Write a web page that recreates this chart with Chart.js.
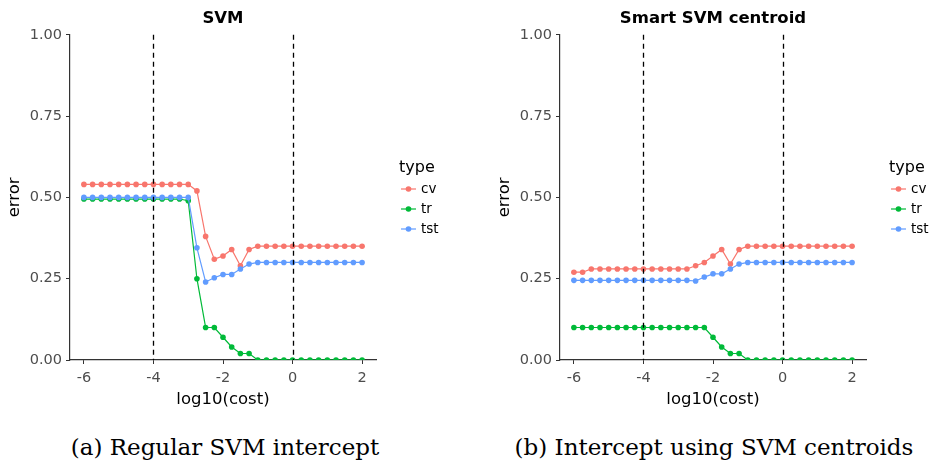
<!DOCTYPE html>
<html>
<head>
    <title>SVM error vs cost</title>
    <script src="https://cdn.jsdelivr.net/npm/chart.js"></script>
    <style>
        body { margin: 0; background: #fff; }
        #wrap { position: relative; width: 932px; height: 463px; }
        canvas { position: absolute; top: 0; }
        .cap { position: absolute; top: 434px; line-height: 27px; font-family: 'DejaVu Serif'; font-size: 23px;
               color: #000; text-align: center; white-space: nowrap; }
    </style>
</head>
<body>
<div id="wrap">
    <canvas id="svm-chart" width="466" height="420" style="left:0"></canvas>
    <canvas id="smart-chart" width="466" height="420" style="left:466px"></canvas>
    <div class="cap" style="left:25px;width:400px">(a) Regular SVM intercept</div>
    <div class="cap" style="left:514px;width:400px">(b) Intercept using SVM centroids</div>
</div>

<script>
// log10(cost) grid
const logCost = [-6, -5.75, -5.5, -5.25, -5, -4.75, -4.5, -4.25, -4, -3.75, -3.5, -3.25, -3,
    -2.75, -2.5, -2.25, -2, -1.75, -1.5, -1.25, -1, -0.75, -0.5, -0.25, 0,
    0.25, 0.5, 0.75, 1, 1.25, 1.5, 1.75, 2];
const xTicks = [-6, -4, -2, 0, 2];
const yTicks = [0, 0.25, 0.5, 0.75, 1];
const cutoffs = [-4, 0];

// panel (a) SVM
const svmCv = [0.54, 0.54, 0.54, 0.54, 0.54, 0.54, 0.54, 0.54, 0.54, 0.54, 0.54, 0.54, 0.54,
    0.52, 0.38, 0.31, 0.32, 0.34, 0.29, 0.34, 0.35,
    0.35, 0.35, 0.35, 0.35, 0.35, 0.35, 0.35, 0.35, 0.35, 0.35, 0.35, 0.35];
const svmTr = [0.495, 0.495, 0.495, 0.495, 0.495, 0.495, 0.495, 0.495, 0.495, 0.495, 0.495, 0.495, 0.49,
    0.25, 0.10, 0.10, 0.07, 0.04, 0.02, 0.02, 0,
    0, 0, 0, 0, 0, 0, 0, 0, 0, 0, 0, 0];
const svmTst = [0.50, 0.50, 0.50, 0.50, 0.50, 0.50, 0.50, 0.50, 0.50, 0.50, 0.50, 0.50, 0.50,
    0.345, 0.24, 0.253, 0.263, 0.263, 0.28, 0.295, 0.30,
    0.30, 0.30, 0.30, 0.30, 0.30, 0.30, 0.30, 0.30, 0.30, 0.30, 0.30, 0.30];

// panel (b) Smart SVM centroid
const smartCv = [0.27, 0.27, 0.28, 0.28, 0.28, 0.28, 0.28, 0.28, 0.28, 0.28, 0.28, 0.28, 0.28,
    0.28, 0.29, 0.30, 0.32, 0.34, 0.295, 0.34, 0.35,
    0.35, 0.35, 0.35, 0.35, 0.35, 0.35, 0.35, 0.35, 0.35, 0.35, 0.35, 0.35];
const smartTr = [0.10, 0.10, 0.10, 0.10, 0.10, 0.10, 0.10, 0.10, 0.10, 0.10, 0.10, 0.10, 0.10,
    0.10, 0.10, 0.10, 0.07, 0.04, 0.02, 0.02, 0,
    0, 0, 0, 0, 0, 0, 0, 0, 0, 0, 0, 0];
const smartTst = [0.245, 0.245, 0.245, 0.245, 0.245, 0.245, 0.245, 0.245, 0.245, 0.245, 0.245, 0.245, 0.245,
    0.245, 0.243, 0.255, 0.265, 0.265, 0.28, 0.295, 0.30,
    0.30, 0.30, 0.30, 0.30, 0.30, 0.30, 0.30, 0.30, 0.30, 0.30, 0.30, 0.30];

const typeNames = ['cv', 'tr', 'tst'];
const typeColors = ['#F8766D', '#00BA38', '#619CFF'];

Chart.defaults.font.family = '"DejaVu Sans"';

// dashed reference lines at the chosen cost values
const vlinePlugin = {
    id: 'vlines',
    afterDatasetsDraw(chart) {
        const ctx = chart.ctx, area = chart.chartArea, xs = chart.scales.x;
        ctx.save();
        ctx.strokeStyle = '#000';
        ctx.lineWidth = 1.3;
        ctx.setLineDash([5, 4]);
        cutoffs.forEach(v => {
            const px = Math.round(xs.getPixelForValue(v)) + 0.5;
            ctx.beginPath();
            ctx.moveTo(px, area.top);
            ctx.lineTo(px, area.bottom);
            ctx.stroke();
        });
        ctx.restore();
    }
};

// ggplot-like legend with a title, to the right of the panel
const typeLegend = {
    id: 'typeLegend',
    afterDraw(chart) {
        const ctx = chart.ctx, x0 = chart.chartArea.right;
        ctx.save();
        ctx.textBaseline = 'middle';
        ctx.fillStyle = '#000';
        ctx.font = '16px "DejaVu Sans"';
        ctx.fillText('type', x0 + 23, 168);
        ctx.font = '13.5px "DejaVu Sans"';
        chart.data.datasets.forEach((ds, i) => {
            const y = 189 + i * 20;
            ctx.strokeStyle = ds.borderColor;
            ctx.lineWidth = 1.2;
            ctx.beginPath();
            ctx.moveTo(x0 + 25, y);
            ctx.lineTo(x0 + 40, y);
            ctx.stroke();
            ctx.fillStyle = ds.borderColor;
            ctx.beginPath();
            ctx.arc(x0 + 32.5, y, 2.8, 0, Math.PI * 2);
            ctx.fill();
            ctx.fillStyle = '#000';
            ctx.fillText(ds.label, x0 + 45, y);
        });
        ctx.restore();
    }
};

function makeChart(id, title, series, padLeft, padRight) {
    const ctx = document.getElementById(id).getContext('2d');
    return new Chart(ctx, {
        type: 'line',
        data: {
            datasets: series.map((vals, i) => ({
                label: typeNames[i],
                data: logCost.map((x, j) => ({ x: x, y: vals[j] })),
                borderColor: typeColors[i],
                backgroundColor: typeColors[i],
                pointBackgroundColor: typeColors[i],
                pointBorderWidth: 0,
                pointRadius: 2.8,
                borderWidth: 1.2,
                tension: 0,
                order: 2 - i
            }))
        },
        options: {
            responsive: false,
            animation: false,
            layout: { padding: { left: padLeft, right: padRight, top: 0, bottom: 10.8 } },
            plugins: {
                legend: { display: false },
                tooltip: { enabled: false },
                title: {
                    display: true,
                    text: title,
                    fullSize: false,
                    color: '#000',
                    font: { size: 16.5, weight: 'bold' },
                    padding: { top: 9, bottom: 6 }
                }
            },
            scales: {
                x: {
                    type: 'linear',
                    min: -6.4,
                    max: 2.4,
                    afterBuildTicks: s => { s.ticks = xTicks.map(v => ({ value: v })); },
                    afterFit: s => { s.height = 49.2; },
                    ticks: { color: '#4d4d4d', font: { size: 14.5 }, padding: 6, maxRotation: 0 },
                    grid: { drawOnChartArea: false, tickLength: 4, color: '#333', lineWidth: 1 },
                    border: { color: '#333', width: 1.2 },
                    title: { display: true, text: 'log10(cost)', color: '#000', font: { size: 16.5 },
                             padding: { top: 0, bottom: 0 } }
                },
                y: {
                    min: 0,
                    max: 1,
                    afterBuildTicks: s => { s.ticks = yTicks.map(v => ({ value: v })); },
                    afterFit: s => { s.width = 70; },
                    ticks: { color: '#4d4d4d', font: { size: 14.5 }, padding: 4,
                             callback: v => v.toFixed(2) },
                    grid: { drawOnChartArea: false, tickLength: 4, color: '#333', lineWidth: 1 },
                    border: { color: '#333', width: 1.2 },
                    title: { display: true, text: 'error', color: '#000', font: { size: 16.5 },
                             padding: { top: 5, bottom: 0 } }
                }
            }
        },
        plugins: [vlinePlugin, typeLegend]
    });
}

makeChart('svm-chart', 'SVM', [svmCv, svmTr, svmTst], 0, 90);
makeChart('smart-chart', 'Smart SVM centroid', [smartCv, smartTr, smartTst], 24, 66);
</script>
</body>
</html>
